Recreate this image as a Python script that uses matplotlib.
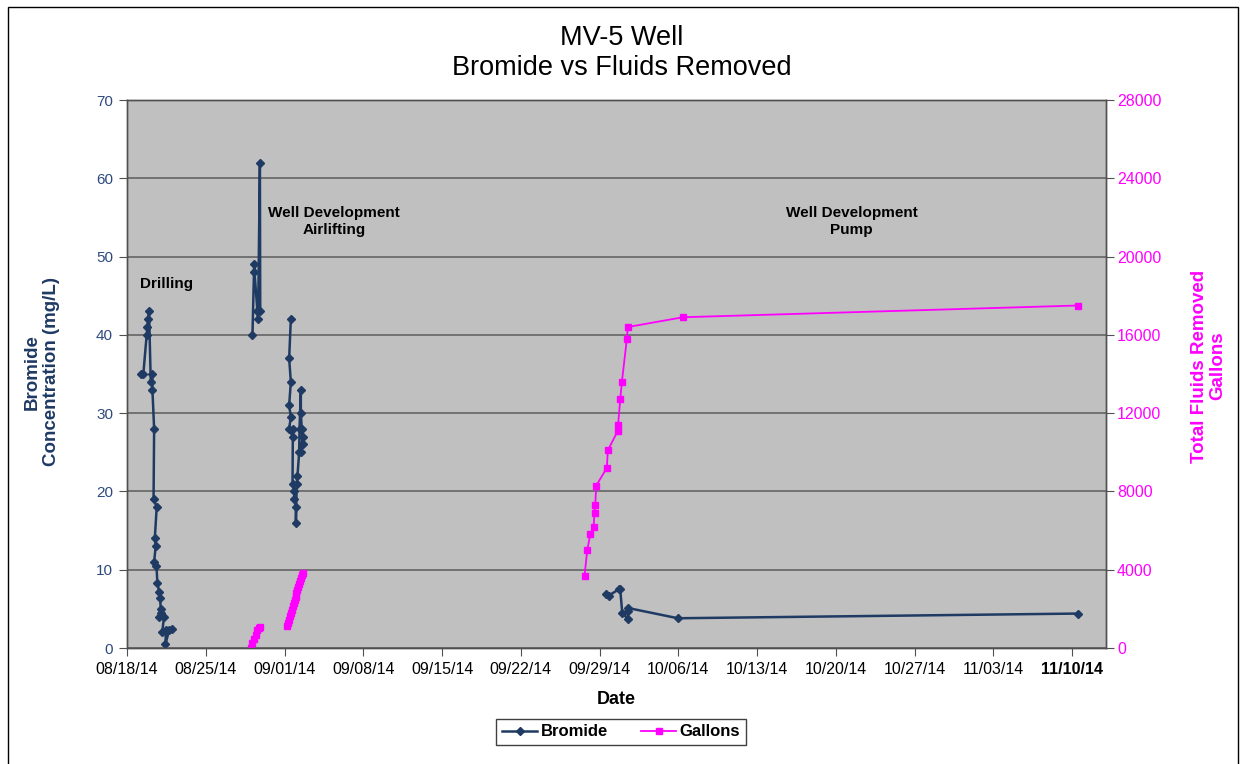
import datetime as dt
import numpy as np
import matplotlib
matplotlib.use("Agg")
import matplotlib.pyplot as plt
import matplotlib.dates as mdates
from matplotlib.patches import Rectangle

plt.rcParams['font.family'] = ['Liberation Sans', 'DejaVu Sans']

# 基準日（x軸の開始）
base = dt.datetime(2014, 8, 18)

# Bromide (mg/L) — 時刻は 08/18/14 からの経過日数
drill_t = [1.22, 1.45, 1.75, 1.81, 1.87, 1.96, 2.11, 2.24, 2.26, 2.41, 2.36, 2.64, 2.47, 2.55,
           2.41, 2.62, 2.70, 2.85, 2.94, 3.00, 2.85, 3.05, 3.29, 3.14, 3.45, 3.42, 3.75, 4.04]
drill_br = [35, 35, 40, 41, 42, 43, 34, 35, 33, 28, 19, 18, 14, 13,
            11, 10.5, 8.3, 7.2, 6.4, 5.0, 4.0, 4.5, 4.0, 2.1, 2.3, 0.5, 2.3, 2.4]

air1_t = [11.15, 11.30, 11.33, 11.59, 11.65, 11.81, 11.84]
air1_br = [40, 49, 48, 43, 42, 62, 43]

air2_t = [14.56, 14.41, 14.56, 14.41, 14.56, 14.41, 14.71, 14.74, 14.71, 14.86, 14.86, 15.01,
          15.01, 15.08, 15.15, 15.30, 15.33, 15.45, 15.45, 15.53, 15.60, 15.45, 15.60]
air2_br = [42, 37, 34, 31, 29.5, 28, 27, 28, 21, 20, 19, 18,
           16, 21, 22, 25, 28, 33, 30, 28, 26, 25, 27]

pump_t = [42.53, 42.82, 43.71, 43.83, 44.01, 44.51, 44.51, 44.55, 48.96, 84.55]
pump_br = [6.9, 6.7, 7.5, 7.5, 4.5, 3.7, 4.7, 5.1, 3.8, 4.4]

# Total fluids removed (gallons)
gal1_t = [11.01, 11.15, 11.30, 11.45, 11.59, 11.74, 11.83]
gal1 = [0, 250, 450, 650, 900, 1000, 1050]

gal2_t = [14.26, 14.34, 14.42, 14.50, 14.58, 14.66, 14.74, 14.82, 14.90, 14.98, 15.06, 15.14,
          15.22, 15.30, 15.38, 15.46, 15.53, 15.60]
gal2 = [1100, 1280, 1450, 1620, 1800, 1960, 2130, 2300, 2460, 2620, 2790, 2950,
        3110, 3280, 3440, 3600, 3720, 3820]

gal3_t = [40.66, 40.90, 41.17, 41.46, 41.55, 41.61, 41.70, 42.64, 42.73, 43.62, 43.64, 43.83,
          43.98, 44.42, 44.51, 49.40, 84.55]
gal3 = [3700, 5000, 5800, 6200, 6900, 7300, 8300, 9200, 10100, 11100, 11400, 12700,
        13600, 15800, 16400, 16900, 17500]

navy = '#1F3A63'
magenta = '#FF00FF'
t0 = mdates.date2num(base)


def join(*parts):
    # 区間の間は NaN で線を切る
    out = []
    for p in parts:
        out += list(p) + [np.nan]
    return np.array(out[:-1], dtype=float)


br_x = t0 + join(drill_t, air1_t, air2_t, pump_t)
br_y = join(drill_br, air1_br, air2_br, pump_br)
gal_x = t0 + join(gal1_t, gal2_t, gal3_t)
gal_y = join(gal1, gal2, gal3)

W, H = 1244, 764
fig = plt.figure(figsize=(W / 100, H / 100), dpi=100)
fig.patch.set_facecolor('white')

L, R, T, B = 127, 1106, 100, 648
ax = fig.add_axes([L / W, 1 - B / H, (R - L) / W, (B - T) / H])
ax.set_facecolor('#C0C0C0')
ax2 = ax.twinx()

ax.set_ylim(0, 70)
ax.set_yticks(range(0, 71, 10))
ax2.set_ylim(0, 28000)
ax2.set_yticks(range(0, 28001, 4000))
ax.set_xlim(t0, t0 + 87)
week_ticks = [t0 + 7 * i for i in range(13)]
ax.set_xticks(week_ticks)
ax.xaxis.set_major_formatter(mdates.DateFormatter('%m/%d/%y'))

ax.yaxis.grid(True, color='#646464', lw=1.2)
ax.set_axisbelow(True)

l1, = ax.plot(br_x, br_y, color=navy, lw=1.8, marker='D', ms=3.6, label='Bromide')
l2, = ax2.plot(gal_x, gal_y, color=magenta, lw=1.3, marker='s', ms=5, label='Gallons')

for a in (ax, ax2):
    for s in a.spines.values():
        s.set_color('#505050')
        s.set_linewidth(1.0)

ax.tick_params(axis='y', colors='#2E4A7D', labelsize=11, length=6, pad=4, direction='out')
ax.tick_params(axis='y', color='#505050')
ax2.tick_params(axis='y', colors=magenta, labelsize=11.5, length=6, pad=2, direction='out')
ax2.tick_params(axis='y', color='#505050')
ax.tick_params(axis='x', labelsize=11.5, length=6, pad=4, color='#505050', labelcolor='black')
ax.get_xticklabels()[-1].set_fontweight('bold')

ax.set_xlabel('Date', fontsize=13, fontweight='bold', labelpad=10)

fig.text(622 / W, 1 - 38 / H, 'MV-5 Well', ha='center', va='center', fontsize=19.5)
fig.text(622 / W, 1 - 68 / H, 'Bromide vs Fluids Removed', ha='center', va='center', fontsize=19.5)

fig.text(42 / W, 1 - 372 / H, 'Bromide\nConcentration (mg/L)', rotation=90, ha='center',
         va='center', fontsize=13.5, fontweight='bold', color=navy, linespacing=1.15)
fig.text(1209 / W, 1 - 366 / H, 'Total Fluids Removed\nGallons', rotation=90, ha='center',
         va='center', fontsize=13.5, fontweight='bold', color=magenta, linespacing=1.1)

ax.text(t0 + 3.5, 46.5, 'Drilling', ha='center', va='center', fontsize=11, fontweight='bold')
ax.text(t0 + 18.4, 54.5, 'Well Development\nAirlifting', ha='center', va='center',
        fontsize=11, fontweight='bold', linespacing=1.25)
ax.text(t0 + 64.4, 54.5, 'Well Development\nPump', ha='center', va='center',
        fontsize=11, fontweight='bold', linespacing=1.25)

leg = fig.legend([l1, l2], ['Bromide', 'Gallons'], loc='center',
                 bbox_to_anchor=(621 / W, 1 - 732 / H), ncol=2, fancybox=False,
                 edgecolor='#404040', prop={'weight': 'bold', 'size': 12},
                 handlelength=2.1, handletextpad=0.2, columnspacing=2.0,
                 borderpad=0.35, framealpha=1)
leg.get_frame().set_linewidth(1.0)

# 外枠
fig.add_artist(Rectangle((8 / W, -0.02), 1230 / W, 1.02 - 7 / H, transform=fig.transFigure,
                         fill=False, edgecolor='black', lw=1.0, clip_on=False))

fig.savefig('out.png', dpi=100)
